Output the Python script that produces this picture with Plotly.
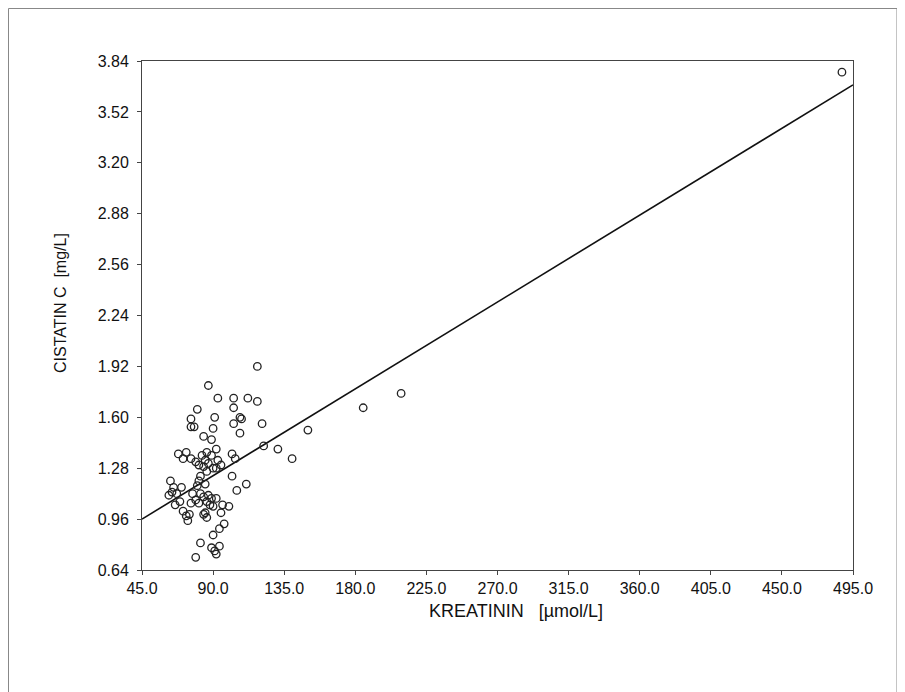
import plotly.graph_objects as go

# Data
kreatinin = [118, 87, 93, 103, 112, 118, 80, 103, 76, 91,
             107, 108, 103, 121, 76, 78, 90, 107, 150, 84,
             89, 122, 131, 140, 92, 68, 73, 71, 76, 83,
             86, 89, 102, 104, 79, 81, 85, 93, 95, 87,
             84, 90, 86, 92, 102, 111, 105, 82, 81, 85,
             80, 63, 65, 70, 64, 62, 67, 77, 82, 84,
             87, 89, 92, 79, 81, 86, 88, 90, 66, 69,
             76, 96, 100, 95, 71, 75, 73, 74, 84, 86,
             85, 97, 94, 90, 82, 89, 94, 91, 92, 79,
             185, 209, 488]
cistatin = [1.92, 1.80, 1.72, 1.72, 1.72, 1.70, 1.65, 1.66, 1.59, 1.60,
            1.60, 1.59, 1.56, 1.56, 1.54, 1.54, 1.53, 1.50, 1.52, 1.48,
            1.46, 1.42, 1.40, 1.34, 1.40, 1.37, 1.38, 1.34, 1.34, 1.36,
            1.38, 1.36, 1.37, 1.34, 1.32, 1.30, 1.33, 1.33, 1.30, 1.31,
            1.29, 1.28, 1.26, 1.28, 1.23, 1.18, 1.14, 1.23, 1.20, 1.18,
            1.17, 1.20, 1.16, 1.16, 1.13, 1.11, 1.12, 1.12, 1.12, 1.10,
            1.11, 1.09, 1.09, 1.08, 1.06, 1.07, 1.05, 1.04, 1.05, 1.07,
            1.06, 1.05, 1.04, 1.00, 1.01, 0.99, 0.98, 0.95, 0.99, 0.97,
            1.00, 0.93, 0.90, 0.86, 0.81, 0.78, 0.79, 0.76, 0.74, 0.72,
            1.66, 1.75, 3.77]

fit_x = [45, 495]
fit_y = [0.96, 3.69]

x_ticks = [45, 90, 135, 180, 225, 270, 315, 360, 405, 450, 495]
x_tick_labels = ["45.0", "90.0", "135.0", "180.0", "225.0", "270.0",
                 "315.0", "360.0", "405.0", "450.0", "495.0"]
y_ticks = [0.64, 0.96, 1.28, 1.60, 1.92, 2.24, 2.56, 2.88, 3.20, 3.52, 3.84]
y_tick_labels = ["0.64", "0.96", "1.28", "1.60", "1.92", "2.24",
                 "2.56", "2.88", "3.20", "3.52", "3.84"]

x_title = "KREATININ   [µmol/L]"
y_title = "CISTATIN C  [mg/L]"

fig = go.Figure()
fig.add_trace(go.Scatter(
    x=fit_x, y=fit_y, mode="lines",
    line=dict(color="#111111", width=1.6), showlegend=False, hoverinfo="skip"))
fig.add_trace(go.Scatter(
    x=kreatinin, y=cistatin, mode="markers",
    marker=dict(symbol="circle-open", size=7.5, color="#222222",
                line=dict(width=1.3, color="#222222")),
    showlegend=False))

font_family = "Liberation Sans, Arial, sans-serif"

# plot area in the (8px-offset) page: left 142, right 853, top 61, bottom 570
L, R, T, B = 134, 845, 53, 562
PW, PH = R - L, B - T

fig.update_layout(
    width=905, height=692,
    margin=dict(l=L, r=905 - R, t=T, b=692 - B),
    paper_bgcolor="white", plot_bgcolor="white",
    font=dict(family=font_family, size=16, color="#111111"),
    xaxis=dict(range=[45, 495], tickvals=x_ticks, ticktext=x_tick_labels,
               showgrid=False, zeroline=False, showline=True, mirror=True,
               linecolor="#444444", linewidth=1, ticks="outside", ticklen=4,
               tickcolor="#444444", tickfont=dict(size=16)),
    yaxis=dict(range=[0.64, 3.84], tickvals=y_ticks, ticktext=y_tick_labels,
               showgrid=False, zeroline=False, showline=True, mirror=True,
               linecolor="#444444", linewidth=1, ticks="outside", ticklen=4,
               tickcolor="#444444", tickfont=dict(size=16),
               ticklabelstandoff=5),
    annotations=[
        dict(text=x_title, xref="paper", yref="paper", x=(508 - L) / PW,
             y=-(603 - B) / PH, showarrow=False, xanchor="center",
             yanchor="middle", font=dict(size=18, color="#111111")),
        dict(text=y_title, xref="paper", yref="paper", x=(52 - L) / PW,
             y=(B - 295) / PH, showarrow=False, xanchor="center",
             yanchor="middle", textangle=-90,
             font=dict(size=16, color="#111111")),
    ],
    shapes=[
        dict(type="rect", xref="paper", yref="paper",
             x0=(0.5 - L) / PW, x1=(889 - L) / PW,
             y0=(B - 690) / PH, y1=(B - 0.5) / PH,
             line=dict(color="#888888", width=1), fillcolor="rgba(0,0,0,0)",
             layer="below"),
    ],
)

fig.write_html("out.html")
